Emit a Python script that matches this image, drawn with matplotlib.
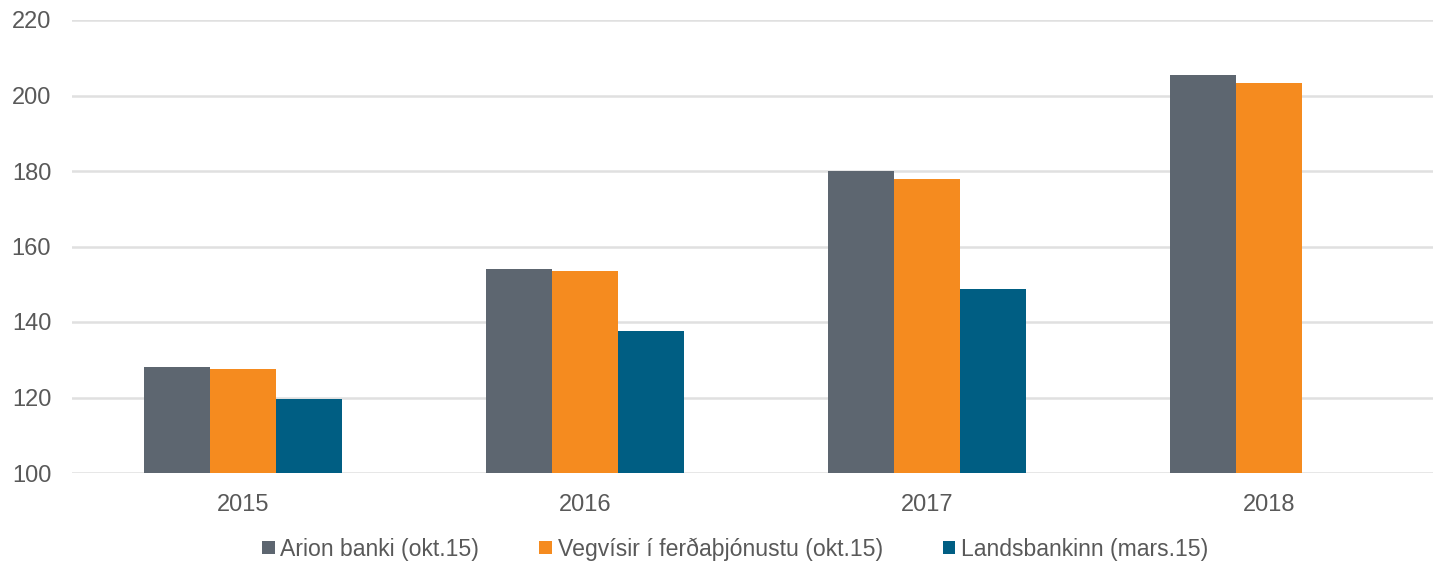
import matplotlib
matplotlib.use("Agg")
import matplotlib.pyplot as plt
import numpy as np

plt.rcParams['font.family'] = ['Liberation Sans', 'DejaVu Sans']

years = ["2015", "2016", "2017", "2018"]
series_names = ["Arion banki (okt.15)", "Vegvísir í ferðaþjónustu (okt.15)", "Landsbankinn (mars.15)"]
arion = [128.0, 154.0, 180.0, 205.3]
vegvisir = [127.5, 153.5, 177.8, 203.2]
landsbankinn = [119.7, 137.6, 148.7, np.nan]
colors = ["#5D6670", "#F58B1F", "#005E83"]
yticks = [100, 120, 140, 160, 180, 200, 220]

fig = plt.figure(figsize=(14.33, 5.62), dpi=100)
ax = fig.add_axes([72/1433, 1-473/562, 1368/1433, (473-20)/562])

x = np.arange(len(years))
w = 0.193
for i, (vals, name, c) in enumerate(zip([arion, vegvisir, landsbankinn], series_names, colors)):
    ax.bar(x + (i-1)*w, vals, width=w, color=c, label=name, zorder=3, bottom=0)

ax.set_ylim(100, 220)
ax.set_xlim(-0.5, 3.5)
ax.set_yticks(yticks)
ax.set_xticks(x)
ax.set_xticklabels(years)
ax.grid(axis='y', color='#E0E0E0', linewidth=1.8, zorder=0)
ax.set_axisbelow(True)
for s in ax.spines.values():
    s.set_visible(False)
ax.tick_params(axis='both', length=0, labelsize=17, labelcolor='#595959')
ax.tick_params(axis='y', pad=15)
ax.tick_params(axis='x', pad=15)

leg = fig.legend(loc='center', bbox_to_anchor=(0.513, 1-549/562), ncol=3, frameon=False,
                 fontsize=16.6, handlelength=0.55, handleheight=0.55, handletextpad=0.25,
                 columnspacing=2.6, labelcolor='#595959')

fig.savefig("out.png", dpi=100)
